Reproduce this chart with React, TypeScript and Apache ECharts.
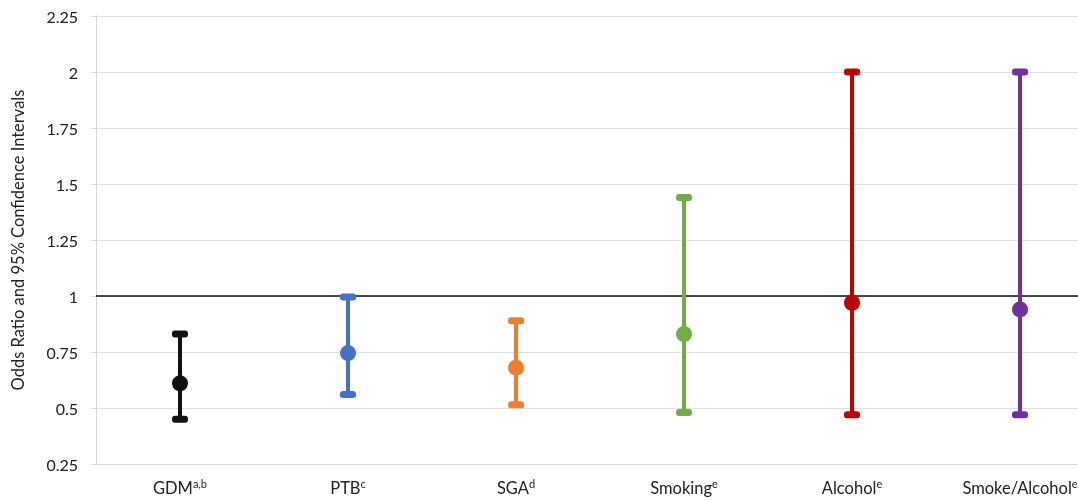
import React, { useEffect, useRef } from "react";
import * as echarts from "echarts";

const categories = ["GDM", "PTB", "SGA", "Smoking", "Alcohol", "Smoke/Alcohol"];
const superscripts = ["a,b", "c", "d", "e", "e", "e"];
const oddsRatio = [0.61, 0.745, 0.68, 0.83, 0.97, 0.94];
const lowerCI = [0.45, 0.56, 0.515, 0.48, 0.47, 0.47];
const upperCI = [0.83, 0.995, 0.89, 1.44, 2.0, 2.0];
const colors = ["#111111", "#4472C4", "#ED7D31", "#70AD47", "#C00000", "#7030A0"];
const yTicks = { min: 0.25, max: 2.25, interval: 0.25 };

export default function App() {
  const ref = useRef<HTMLDivElement>(null);
  useEffect(() => {
    if (!ref.current) return;
    const chart = echarts.init(ref.current, undefined, { renderer: "svg" });
    const font = "Lato, 'Open Sans', 'Liberation Sans', sans-serif";
    const data = categories.map((_, i) => [i, lowerCI[i], oddsRatio[i], upperCI[i]]);
    chart.setOption({
      animation: false,
      textStyle: { fontFamily: font },
      grid: { left: 96, top: 16, width: 1008, height: 448, outerBoundsMode: "none", containLabel: false },
      xAxis: {
        type: "category",
        data: categories,
        axisLine: { lineStyle: { color: "#d9d9d9", width: 1 } },
        axisTick: { show: false },
        axisLabel: {
          interval: 0,
          margin: 14,
          formatter: (v: string, i: number) => `{base|${v}}{sup|${superscripts[i]}}`,
          rich: {
            base: { fontSize: 16.5, color: "#222", fontFamily: font, lineHeight: 20 },
            sup: { fontSize: 11, color: "#222", fontFamily: font, verticalAlign: "top", lineHeight: 20, padding: [0, 0, 7, 0] },
          },
        },
      },
      yAxis: {
        type: "value",
        min: yTicks.min,
        max: yTicks.max,
        interval: yTicks.interval,
        name: "Odds Ratio and 95% Confidence Intervals",
        nameLocation: "middle",
        nameGap: 70,
        nameTextStyle: { fontSize: 16.5, color: "#222", fontFamily: font },
        axisLine: { show: true, lineStyle: { color: "#d9d9d9", width: 1 } },
        axisTick: { show: true, length: 5, lineStyle: { color: "#d9d9d9" } },
        axisLabel: { fontSize: 16, color: "#222", margin: 18, fontFamily: font },
        splitLine: { lineStyle: { color: "#e0e0e0", width: 1 } },
      },
      series: [
        {
          type: "custom",
          data,
          encode: { x: 0, y: [1, 2, 3] },
          renderItem: (params: any, api: any) => {
            const i = api.value(0);
            const lo = api.coord([i, api.value(1)]);
            const mid = api.coord([i, api.value(2)]);
            const hi = api.coord([i, api.value(3)]);
            const c = colors[params.dataIndex];
            return {
              type: "group",
              children: [
                { type: "line", shape: { x1: lo[0], y1: lo[1], x2: hi[0], y2: hi[1] }, style: { stroke: c, lineWidth: 4 } },
                { type: "rect", shape: { x: hi[0] - 8, y: hi[1] - 3.5, width: 16, height: 7, r: 3 }, style: { fill: c } },
                { type: "rect", shape: { x: lo[0] - 8, y: lo[1] - 3.5, width: 16, height: 7, r: 3 }, style: { fill: c } },
                { type: "circle", shape: { cx: mid[0], cy: mid[1], r: 8 }, style: { fill: c } },
              ],
            };
          },
          markLine: {
            silent: true,
            symbol: "none",
            label: { show: false },
            lineStyle: { color: "#111", width: 1.5, type: "solid" },
            data: [{ yAxis: 1 }],
            z: 1,
          },
          z: 3,
        },
      ],
    });
    return () => chart.dispose();
  }, []);
  return (
    <div style={{ position: "fixed", left: 0, top: 0, width: 1078, height: 500, overflow: "hidden" }}>
      <div ref={ref} style={{ width: 1110, height: 500 }} />
    </div>
  );
}
